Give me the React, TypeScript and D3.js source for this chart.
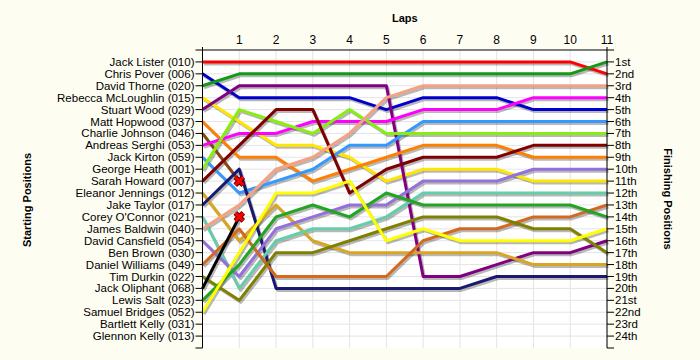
import React from 'react';
import * as d3 from 'd3';

const laps = [0, 1, 2, 3, 4, 5, 6, 7, 8, 9, 10, 11];

const drivers = [
  'Jack Lister (010)', 'Chris Pover (006)', 'David Thorne (020)', 'Rebecca McLoughlin (015)',
  'Stuart Wood (029)', 'Matt Hopwood (037)', 'Charlie Johnson (046)', 'Andreas Serghi (053)',
  'Jack Kirton (059)', 'George Heath (001)', 'Sarah Howard (007)', 'Eleanor Jennings (012)',
  'Jake Taylor (017)', "Corey O'Connor (021)", 'James Baldwin (040)', 'David Cansfield (054)',
  'Ben Brown (030)', 'Daniel Williams (049)', 'Tim Durkin (022)', 'Jack Oliphant (068)',
  'Lewis Salt (023)', 'Samuel Bridges (052)', 'Bartlett Kelly (031)', 'Glennon Kelly (013)'
];

const finishLabels = [
  '1st', '2nd', '3rd', '4th', '5th', '6th', '7th', '8th', '9th', '10th', '11th', '12th',
  '13th', '14th', '15th', '16th', '17th', '18th', '19th', '20th', '21st', '22nd', '23rd', '24th'
];

// position per lap (lap 0 = grid); shorter list = retired, empty = did not start
const positions = [
  [1, 1, 1, 1, 1, 1, 1, 1, 1, 1, 1, 2],
  [2, 4, 4, 4, 4, 5, 4, 4, 4, 5, 5, 5],
  [3, 2, 2, 2, 2, 2, 2, 2, 2, 2, 2, 1],
  [4, 6, 8, 8, 9, 11, 10, 10, 10, 11, 11, 11],
  [5, 3, 3, 3, 3, 3, 19, 19, 18, 17, 17, 16],
  [6, 9, 9, 11, 10, 9, 8, 8, 8, 9, 9, 9],
  [7, 11],
  [8, 7, 7, 6, 6, 6, 5, 5, 5, 4, 4, 4],
  [9, 12, 11, 10, 8, 8, 6, 6, 6, 6, 6, 6],
  [10, 5, 6, 7, 5, 7, 7, 7, 7, 7, 7, 7],
  [11, 8, 5, 5, 12, 10, 9, 9, 9, 8, 8, 8],
  [12, 16, 13, 16, 17, 17, 17, 17, 17, 18, 18, 18],
  [13, 10, 20, 20, 20, 20, 20, 20, 19, 19, 19, 19],
  [14, 20, 16, 15, 15, 14, 12, 12, 12, 12, 12, 12],
  [15, 13, 10, 9, 7, 4, 3, 3, 3, 3, 3, 3],
  [16, 19, 15, 14, 13, 13, 11, 11, 11, 10, 10, 10],
  [],
  [18, 15, 19, 19, 19, 19, 16, 15, 15, 14, 14, 13],
  [19, 21, 17, 17, 16, 15, 14, 14, 14, 15, 15, 17],
  [20, 14],
  [21, 18, 14, 13, 14, 12, 13, 13, 13, 13, 13, 14],
  [22, 17, 12, 12, 11, 16, 15, 16, 16, 16, 16, 15],
  [],
  []
];

const colors = [
  '#ff0000', '#0000cc', '#139913', '#ffe600', '#800080', '#ff8000', '#8b4513', '#ff00ff',
  '#3399ff', '#88ee11', '#800000', '#daa520', '#191970', '#66cdaa', '#f4a283', '#9370db',
  '#999999', '#d2691e', '#808000', '#000000', '#22a522', '#ffff00', '#999999', '#999999'
];

const W = 700;
const H = 360;
const font = '"Liberation Sans", Arial, sans-serif';

export default function App() {
  const x = d3.scaleLinear().domain([0, 11]).range([202.5, 607]);
  const y = d3.scaleLinear().domain([0, 25]).range([50, 348]);
  const rows = d3.range(1, 25);

  const line = d3.line<number>()
    .x((d, i) => x(laps[i]))
    .y(d => y(d));

  return (
    <svg width={W} height={H} style={{ position: 'absolute', left: 0, top: 0, background: '#fdfdf2' }}
      fontFamily={font}>
      <rect x={x(0)} y={y(0)} width={x(11) - x(0)} height={y(25) - y(0)} fill="#ffffff" />
      {rows.map(r => (
        <line key={'h' + r} x1={x(0)} x2={x(11)} y1={y(r)} y2={y(r)} stroke="#e4e4e4" />
      ))}
      {laps.map(l => (
        <line key={'v' + l} x1={x(l)} x2={x(l)} y1={y(0)} y2={y(25)} stroke="#e4e4e4" />
      ))}

      {/* shadows */}
      {positions.map((p, i) => p.length > 1 ? (
        <path key={'s' + i} d={line(p) || ''} fill="none" stroke="#000" strokeOpacity={0.28}
          strokeWidth={3} transform="translate(1.5,2)" strokeLinejoin="round" />
      ) : null)}
      {positions.map((p, i) => p.length > 1 ? (
        <path key={'l' + i} d={line(p) || ''} fill="none" stroke={colors[i]}
          strokeWidth={3} strokeLinejoin="round" />
      ) : null)}

      {/* retirements */}
      {positions.map((p, i) => (p.length > 1 && p.length < laps.length) ? (
        <g key={'x' + i} transform={`translate(${x(laps[p.length - 1])},${y(p[p.length - 1])})`}>
          <path d="M-4,-4L4,4M4,-4L-4,4" stroke="#550000" strokeWidth={5} />
          <path d="M-4,-4L4,4M4,-4L-4,4" stroke="#ff0000" strokeWidth={3} />
        </g>
      ) : null)}

      {/* axes */}
      <line x1={x(0) - 7} x2={x(11) + 7} y1={y(0)} y2={y(0)} stroke="#000" />
      <line x1={x(0)} x2={x(0)} y1={y(0) - 3} y2={y(25)} stroke="#000" />
      <line x1={x(11)} x2={x(11)} y1={y(0) - 3} y2={y(25)} stroke="#000" />
      {laps.slice(1).map(l => (
        <text key={'t' + l} x={x(l)} y={44} fontSize={12} textAnchor="middle" fill="#000">{l}</text>
      ))}
      {drivers.map((d, i) => (
        <g key={'d' + i}>
          <line x1={x(0) - 7} x2={x(0)} y1={y(i + 1)} y2={y(i + 1)} stroke="#000" />
          <text x={x(0) - 8} y={y(i + 1)} dy="0.35em" fontSize={11.5} textAnchor="end" fill="#000">{d}</text>
        </g>
      ))}
      {finishLabels.map((f, i) => (
        <g key={'f' + i}>
          <line x1={x(11)} x2={x(11) + 7} y1={y(i + 1)} y2={y(i + 1)} stroke="#000" />
          <text x={x(11) + 8} y={y(i + 1)} dy="0.35em" fontSize={11.5} fill="#000">{f}</text>
        </g>
      ))}
      <line x1={x(0) - 7} x2={x(0)} y1={y(25)} y2={y(25)} stroke="#000" />
      <line x1={x(11)} x2={x(11) + 7} y1={y(25)} y2={y(25)} stroke="#000" />

      <text x={(x(0) + x(11)) / 2} y={22} fontSize={11} fontWeight="bold" textAnchor="middle">Laps</text>
      <text transform="translate(30.5,200) rotate(-90)" fontSize={11} fontWeight="bold" textAnchor="middle">Starting Positions</text>
      <text transform="translate(664,199) rotate(90)" fontSize={11} fontWeight="bold" textAnchor="middle">Finishing Positions</text>
    </svg>
  );
}
